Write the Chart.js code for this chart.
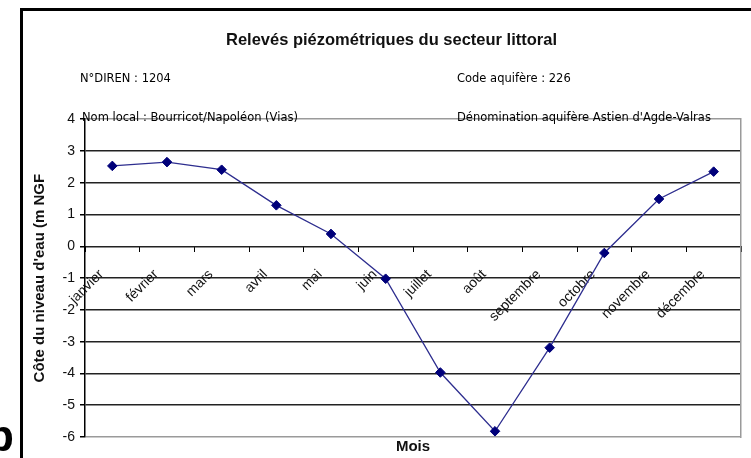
<!DOCTYPE html>
<html>
<head>
<meta charset="utf-8">
<script src="https://cdn.jsdelivr.net/npm/chart.js@4/dist/chart.umd.min.js"></script>
<style>
  html, body { margin: 0; padding: 0; background: #fff; }
  #wrap { position: relative; width: 751px; height: 458px; overflow: hidden; background: #fff; }
  #c { position: absolute; left: 0; top: 0; }
  .frameL { position: absolute; left: 20px; top: 8px; width: 3px; height: 460px; background: #000; }
  .frameT { position: absolute; left: 20px; top: 8px; width: 740px; height: 3px; background: #000; }
  .note { position: absolute; font-family: 'DejaVu Sans', sans-serif; font-size: 11.5px; color: #000; white-space: nowrap; line-height: 14px; }
  .bigb { position: absolute; left: -13px; top: 414px; font-family: 'Liberation Sans', Arial, sans-serif; font-weight: bold; font-size: 44px; color: #000; line-height: 44px; }
</style>
</head>
<body>
<div id="wrap">
  <canvas id="c" width="751" height="458"></canvas>
  <div class="frameL"></div>
  <div class="frameT"></div>
  <div class="bigb">b</div>
  <div class="note" style="left:80px; top:71px;">N°DIREN : 1204</div>
  <div class="note" style="left:457px; top:71px;">Code aquifère : 226</div>
  <div class="note" style="left:82px; top:110px;">Nom local : Bourricot/Napoléon (Vias)</div>
  <div class="note" style="left:457px; top:110px;">Dénomination aquifère Astien d'Agde-Valras</div>
</div>
<script>
const months = ['janvier', 'février', 'mars', 'avril', 'mai', 'juin', 'juillet', 'août', 'septembre', 'octobre', 'novembre', 'décembre'];
const levels = [2.53, 2.65, 2.41, 1.29, 0.39, -1.02, -3.97, -5.82, -3.19, -0.21, 1.49, 2.35];
const yMin = -6;
const yMax = 4;
const yStep = 1;
const chartTitle = 'Relevés piézométriques du secteur littoral';
const yTitle = "Côte du niveau d'eau (m NGF";
const xTitle = 'Mois';

const FONT = "'Liberation Sans', Arial, sans-serif";

new Chart(document.getElementById('c'), {
  type: 'line',
  data: {
    labels: months,
    datasets: [{
      data: levels,
      borderColor: '#2e2e8f',
      borderWidth: 1.3,
      backgroundColor: '#00007a',
      pointBackgroundColor: '#00007a',
      pointBorderColor: '#00007a',
      pointStyle: 'rectRot',
      pointRadius: 4.8,
      pointBorderWidth: 1,
      tension: 0,
      fill: false
    }]
  },
  options: {
    responsive: false,
    animation: false,
    devicePixelRatio: 1,
    layout: { padding: { left: 42, right: 10, top: 0, bottom: 0 } },
    plugins: {
      legend: { display: false },
      tooltip: { enabled: false },
      title: {
        display: true,
        text: chartTitle,
        color: '#111',
        font: { family: FONT, size: 16.5, weight: 'bold' },
        padding: { top: 31, bottom: 68.4 },
        fullSize: true
      },
      subtitle: {
        display: true,
        position: 'bottom',
        text: xTitle,
        color: '#111',
        font: { family: FONT, size: 15, weight: 'bold' },
        padding: { top: 1, bottom: 2 },
        fullSize: false
      }
    },
    scales: {
      x: {
        type: 'category',
        position: { y: 0 },
        offset: true,
        grid: {
          offset: true,
          drawOnChartArea: false,
          drawTicks: true,
          tickLength: 6,
          color: '#000',
          lineWidth: 1
        },
        border: { display: false },
        ticks: {
          autoSkip: false,
          minRotation: 45,
          maxRotation: 45,
          padding: 3,
          color: '#111',
          font: { family: FONT, size: 14 },
          callback: function (value, index) { return months[index] + '    '; }
        }
      },
      y: {
        type: 'linear',
        position: 'left',
        min: yMin,
        max: yMax,
        afterFit: (s) => { s.width = 43; },
        grid: {
          color: (ctx) => (ctx.tick && (ctx.tick.value === yMax || ctx.tick.value === yMin)) ? '#9a9a9a' : '#222',
          lineWidth: 1.5,
          drawTicks: true,
          tickLength: 5,
          tickColor: '#000'
        },
        border: { display: true, color: '#000', width: 1.5 },
        ticks: {
          stepSize: yStep,
          padding: 5,
          color: '#111',
          font: { family: FONT, size: 14 }
        },
        title: {
          display: true,
          text: yTitle,
          color: '#111',
          font: { family: FONT, size: 15, weight: 'bold' },
          padding: { top: -11, bottom: 0 }
        }
      },
      y2: {
        type: 'linear',
        position: 'right',
        min: yMin,
        max: yMax,
        afterFit: (s) => { s.width = 0; },
        ticks: { display: false },
        grid: { drawOnChartArea: false, drawTicks: false },
        border: { display: true, color: '#9a9a9a', width: 1.5 }
      }
    }
  }
});
</script>
</body>
</html>
